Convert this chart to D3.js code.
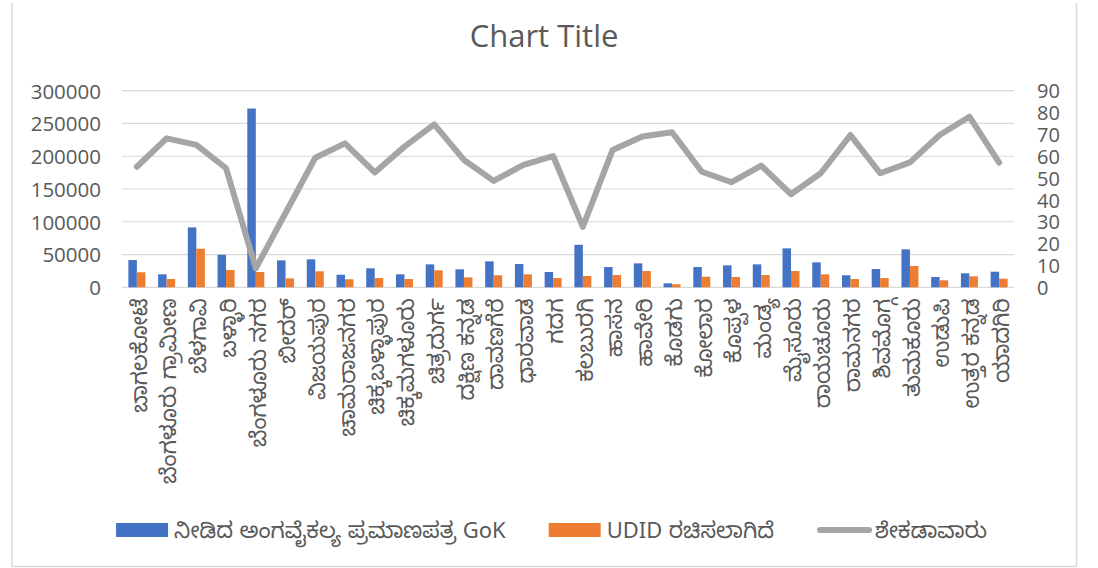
<!DOCTYPE html>
<html>
<head>
<meta charset="utf-8">
<script src="https://cdn.jsdelivr.net/npm/d3@7"></script>
<style>
  html, body { margin: 0; padding: 0; background: #fff; }
  svg { display: block; }
  text { font-family: "Open Sans", "Noto Sans Kannada", "Noto Sans", sans-serif; fill: #595959; }
</style>
</head>
<body>
<svg id="chart" width="1098" height="568"></svg>
<script>
const categories = ["ಬಾಗಲಕೋಟೆ","ಬೆಂಗಳೂರು ಗ್ರಾಮೀಣ","ಬೆಳಗಾವಿ","ಬಳ್ಳಾರಿ","ಬೆಂಗಳೂರು ನಗರ","ಬೀದರ್","ವಿಜಯಪುರ","ಚಾಮರಾಜನಗರ","ಚಿಕ್ಕಬಳ್ಳಾಪುರ","ಚಿಕ್ಕಮಗಳೂರು","ಚಿತ್ರದುರ್ಗ","ದಕ್ಷಿಣ ಕನ್ನಡ","ದಾವಣಗೆರೆ","ಧಾರವಾಡ","ಗದಗ","ಕಲಬುರಗಿ","ಹಾಸನ","ಹಾವೇರಿ","ಕೊಡಗು","ಕೋಲಾರ","ಕೊಪ್ಪಳ","ಮಂಡ್ಯ","ಮೈಸೂರು","ರಾಯಚೂರು","ರಾಮನಗರ","ಶಿವಮೊಗ್ಗ","ತುಮಕೂರು","ಉಡುಪಿ","ಉತ್ತರ ಕನ್ನಡ","ಯಾದಗಿರಿ"];
const gokValues = [41600,19800,91400,49700,272800,41100,42700,19200,29000,19800,35000,27400,39600,35500,23300,64900,30900,36500,6100,30900,33500,35000,59400,38100,18300,27900,57900,15700,21300,23800];
const udidValues = [22900,12650,58900,26400,23300,13700,24400,12200,14200,12600,25900,15200,18300,19800,14200,17200,18700,24800,4600,16200,15700,18700,24800,19800,12600,14200,32500,10700,16800,13100];
const percentValues = [55.2,68.2,65.2,54.5,8.7,34,59.3,65.9,52.6,64.4,74.6,58.3,48.7,56.0,60.1,27.7,62.9,69.0,71.0,52.9,48.1,55.7,42.6,52.2,69.7,52.2,57.2,69.7,78.1,57.1];
const leftTicks = [0,50000,100000,150000,200000,250000,300000];
const rightTicks = [0,10,20,30,40,50,60,70,80,90];
const seriesNames = ["ನೀಡಿದ ಅಂಗವೈಕಲ್ಯ ಪ್ರಮಾಣಪತ್ರ GoK","UDID ರಚಿಸಲಾಗಿದೆ","ಶೇಕಡಾವಾರು"];
const colors = ["#4472C4","#ED7D31","#A5A5A5"];
const title = "Chart Title";

const svg = d3.select("#chart");
const plot = {left: 122, right: 1014, top: 90.7, bottom: 287.3};

// chart border
svg.append("path")
  .attr("d", `M11.8,3 V566.5 H1076.5 V3`)
  .attr("fill","none").attr("stroke","#D9D9D9").attr("stroke-width",1.5);

const x = d3.scaleBand().domain(categories).range([plot.left, plot.right]).paddingInner(0).paddingOuter(0);
const bw = 8.5;
const yL = d3.scaleLinear().domain([0,300000]).range([plot.bottom, plot.top]);
const yR = d3.scaleLinear().domain([0,90]).range([plot.bottom, plot.top]);

// gridlines
svg.append("g").selectAll("line").data(leftTicks).join("line")
  .attr("x1", plot.left).attr("x2", plot.right)
  .attr("y1", d => yL(d)).attr("y2", d => yL(d))
  .attr("stroke", "#D9D9D9").attr("stroke-width", 1.2);

// left axis
const axL = d3.axisLeft(yL).tickValues(leftTicks).tickSize(0).tickPadding(21).tickFormat(d3.format("d"));
const gL = svg.append("g").attr("transform", `translate(${plot.left},0)`).call(axL);
gL.select(".domain").remove();
gL.selectAll("text").style("font-size","20.5px").attr("fill","#595959").attr("dy","0.36em");

// right axis
const axR = d3.axisRight(yR).tickValues(rightTicks).tickSize(0).tickPadding(23).tickFormat(d3.format("d"));
const gR = svg.append("g").attr("transform", `translate(${plot.right},0)`).call(axR);
gR.select(".domain").remove();
gR.selectAll("text").style("font-size","20px").attr("fill","#595959").attr("dy","0.36em");

// bars
const cx = d => x(d) + x.bandwidth()/2;
svg.append("g").selectAll("rect").data(categories).join("rect")
  .attr("x", (d) => cx(d) - bw)
  .attr("width", bw)
  .attr("y", (d,i) => yL(gokValues[i]))
  .attr("height", (d,i) => yL(0) - yL(gokValues[i]))
  .attr("fill", colors[0]);
svg.append("g").selectAll("rect").data(categories).join("rect")
  .attr("x", (d) => cx(d))
  .attr("width", bw)
  .attr("y", (d,i) => yL(udidValues[i]))
  .attr("height", (d,i) => yL(0) - yL(udidValues[i]))
  .attr("fill", colors[1]);

// line
const line = d3.line().x((d,i) => cx(categories[i])).y(d => yR(d));
svg.append("path").datum(percentValues)
  .attr("d", line).attr("fill","none").attr("stroke", colors[2])
  .attr("stroke-width", 6).attr("stroke-linejoin","round").attr("stroke-linecap","round");

// category labels (rotated)
const gx = svg.append("g");
gx.selectAll("text").data(categories).join("text")
  .attr("transform", d => `translate(${cx(d)+2},${plot.bottom + 11}) rotate(-90)`)
  .attr("text-anchor","end")
  .attr("dy","0.35em")
  .style("font-size","22px")
  .style("font-family", '"Noto Sans Kannada", "Noto Sans", sans-serif')
  .text(d => d);

// title
svg.append("text").attr("x", 544).attr("y", 47).attr("text-anchor","middle")
  .style("font-size","31px").text(title);

// legend
const lg = svg.append("g");
let cursor = 0;
seriesNames.forEach((name, i) => {
  const g = lg.append("g").attr("transform", `translate(${cursor},0)`);
  if (i < 2) {
    g.append("rect").attr("x",0).attr("y",-7).attr("width",52).attr("height",14).attr("fill",colors[i]);
  } else {
    g.append("line").attr("x1",3).attr("x2",52).attr("y1",0).attr("y2",0)
      .attr("stroke",colors[i]).attr("stroke-width",6).attr("stroke-linecap","round");
  }
  const t = g.append("text").attr("x",58).attr("y",0).attr("dy","0.35em")
    .style("font-size","22px")
    .style("font-family", '"Noto Sans Kannada", "Open Sans", "Noto Sans", sans-serif')
    .text(name);
  const w = t.node().getComputedTextLength();
  cursor += 58 + w + 43;
});
const total = cursor - 43;
lg.attr("transform", `translate(${551.5 - total/2},530)`);
</script>
</body>
</html>
